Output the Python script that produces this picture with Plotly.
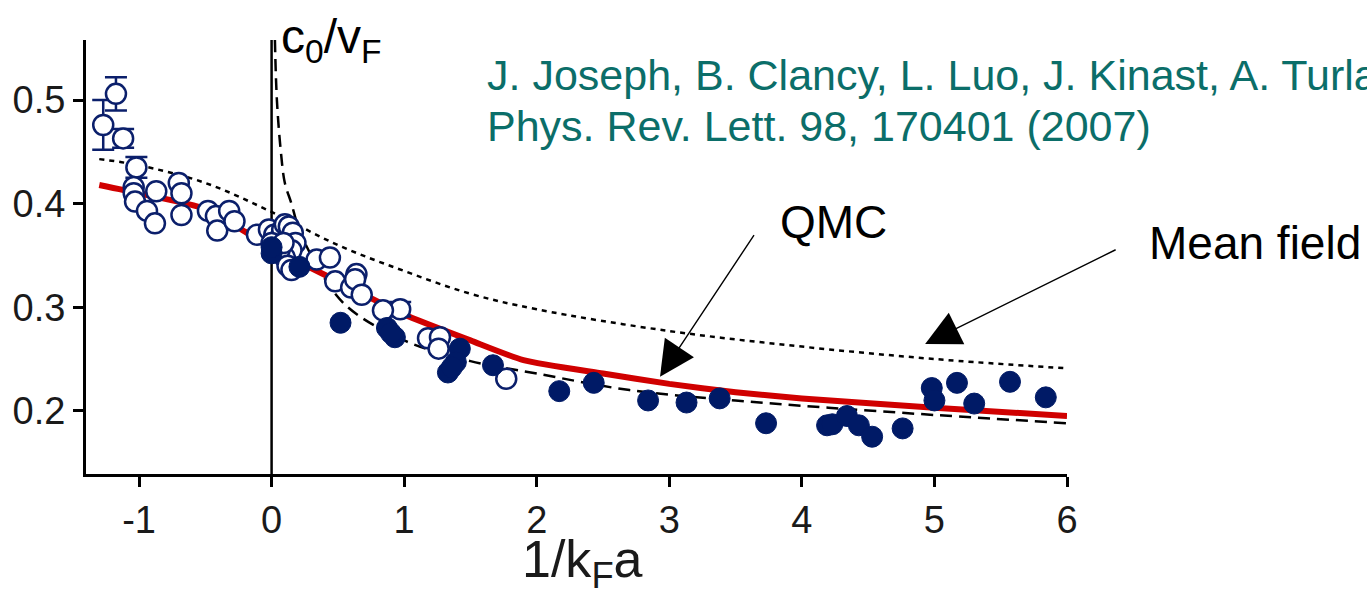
import plotly.graph_objects as go

# ---------------- data ----------------
qmc_x = [-1.3, -1.0, -0.5, -0.2, 0.0, 0.5, 1.0, 1.5, 1.9, 2.5, 3.0, 3.5, 4.0, 5.0, 6.0]
qmc_y = [0.418, 0.410, 0.395, 0.373, 0.357, 0.325, 0.293, 0.268, 0.249, 0.236, 0.226, 0.218, 0.212, 0.203, 0.195]

mf_x = [-1.3, -1.0, -0.5, 0.0, 0.5, 1.0, 1.5, 2.0, 3.0, 4.0, 5.0, 6.0]
mf_y = [0.443, 0.437, 0.420, 0.392, 0.360, 0.335, 0.313, 0.298, 0.277, 0.262, 0.250, 0.241]

bec_x = [0.025, 0.04, 0.07, 0.10, 0.15, 0.20, 0.30, 0.55, 1.0, 1.5, 2.0, 2.7, 3.5, 4.2, 5.0, 6.0]
bec_y = [0.558, 0.50, 0.45, 0.42, 0.40, 0.378, 0.350, 0.303, 0.268, 0.248, 0.236, 0.220, 0.210, 0.203, 0.196, 0.188]

open_x = [-1.04, -1.04, -1.03, -0.87, -0.94, -0.88, -0.70, -0.68, -0.68, -0.48, -0.42, -0.41,
          -0.32, -0.28, -0.11, -0.02, 0.02, 0.05, 0.08, 0.10, 0.13, 0.16, 0.18, 0.15, 0.10,
          0.06, 0.03, 0.12, 0.15, 0.00, 0.09, 0.34, 0.44, 0.48, 0.60, 0.64, 0.63, 0.68, 0.84,
          1.18, 1.27, 1.26, 1.77]
open_y = [0.416, 0.410, 0.402, 0.412, 0.393, 0.381, 0.420, 0.410, 0.389, 0.393, 0.388, 0.374,
          0.393, 0.383, 0.370, 0.375, 0.370, 0.365, 0.375, 0.380, 0.378, 0.372, 0.362, 0.355, 0.348,
          0.355, 0.360, 0.340, 0.336, 0.362, 0.362, 0.346, 0.348, 0.325, 0.319, 0.332, 0.327, 0.312, 0.297,
          0.270, 0.271, 0.260, 0.231]

err_x = [-1.174, -1.27, -1.12, -1.02, 0.97]
err_y = [0.506, 0.476, 0.463, 0.435, 0.298]
err_e = [0.016, 0.024, 0.009, 0.010, 0.007]

filled_x = [0.00, 0.00, 0.21, 0.52, 0.87, 0.93, 0.90, 1.42, 1.39, 1.33, 1.36, 1.67, 2.17, 2.43, 2.84,
            3.13, 3.38, 3.73, 4.19, 4.23, 4.34, 4.43, 4.53, 4.76, 4.98, 5.00, 5.17, 5.30, 5.57, 5.84]
filled_y = [0.352, 0.358, 0.339, 0.285, 0.280, 0.271, 0.275, 0.260, 0.247, 0.237, 0.242, 0.244, 0.219, 0.227, 0.210,
            0.208, 0.212, 0.188, 0.186, 0.187, 0.195, 0.186, 0.175, 0.183, 0.222, 0.210, 0.227, 0.207, 0.228, 0.213]

x_ticks = [-1, 0, 1, 2, 3, 4, 5, 6]
y_ticks = [0.2, 0.3, 0.4, 0.5]

NAVY = "#0b1f6b"
TEAL = "#0b6e69"
FONT = "Liberation Sans, Arial, sans-serif"

fig = go.Figure()

# vertical line at unitarity
fig.add_shape(type="line", xref="x", yref="paper", x0=0, x1=0, y0=0, y1=1.0,
              line=dict(color="black", width=2.5), layer="below")

fig.add_trace(go.Scatter(x=mf_x, y=mf_y, mode="lines", line=dict(color="black", width=2.5, dash="5px,5px", shape="spline"),
                         showlegend=False, hoverinfo="skip"))
fig.add_trace(go.Scatter(x=bec_x, y=bec_y, mode="lines", line=dict(color="black", width=2.5, dash="12px,7px", shape="spline"),
                         showlegend=False, hoverinfo="skip"))
fig.add_trace(go.Scatter(x=qmc_x, y=qmc_y, mode="lines", line=dict(color="#d00000", width=6, shape="spline", smoothing=0.6),
                         showlegend=False, hoverinfo="skip"))

fig.add_trace(go.Scatter(x=err_x, y=err_y, mode="markers",
                         error_y=dict(type="data", array=err_e, color=NAVY, thickness=2.5, width=11),
                         marker=dict(size=20, color="white", line=dict(color=NAVY, width=2.5)),
                         showlegend=False))
fig.add_trace(go.Scatter(x=open_x, y=open_y, mode="markers",
                         marker=dict(size=20, color="white", line=dict(color=NAVY, width=2.5)),
                         showlegend=False))
fig.add_trace(go.Scatter(x=filled_x, y=filled_y, mode="markers",
                         marker=dict(size=21, color="#001a66", line=dict(color="#001a66", width=1)),
                         showlegend=False))

ann = []
ann.append(dict(xref="paper", yref="paper", x=0.1968, y=1.0, xanchor="left", yanchor="middle",
                text="c<sub>0</sub>/v<sub>F</sub>", showarrow=False, font=dict(size=48, color="black", family=FONT)))
ann.append(dict(xref="paper", yref="paper", x=0.4068, y=0.919, xanchor="left", yanchor="middle",
                text="J. Joseph, B. Clancy, L. Luo, J. Kinast, A. Turlapov", showarrow=False,
                font=dict(size=43, color=TEAL, family=FONT)))
ann.append(dict(xref="paper", yref="paper", x=0.4068, y=0.802, xanchor="left", yanchor="middle",
                text="Phys. Rev. Lett. 98, 170401 (2007)", showarrow=False,
                font=dict(size=43, color=TEAL, family=FONT)))
ann.append(dict(xref="paper", yref="paper", x=0.7615, y=0.5806, xanchor="center", yanchor="middle",
                text="QMC", showarrow=False, font=dict(size=46, color="black", family=FONT)))
ann.append(dict(xref="paper", yref="paper", x=1.1917, y=0.532, xanchor="center", yanchor="middle",
                text="Mean field", showarrow=False, font=dict(size=46, color="black", family=FONT)))
# x-axis title
ann.append(dict(xref="paper", yref="paper", x=0.5066, y=-0.286, xanchor="center", yanchor="bottom",
                text="1/k<sub>F</sub>a", showarrow=False, font=dict(size=52, color="#1a1a1a", family=FONT)))
# arrows
ann.append(dict(xref="x", yref="y", x=2.93, y=0.233, ax=95, ay=-143, text="", showarrow=True,
                arrowhead=2, arrowsize=5, arrowwidth=1.4, arrowcolor="black"))
ann.append(dict(xref="x", yref="y", x=4.93, y=0.2645, ax=192, ay=-95, text="", showarrow=True,
                arrowhead=2, arrowsize=5, arrowwidth=1.4, arrowcolor="black"))

fig.update_layout(
    width=1367, height=597,
    margin=dict(l=86, r=300, t=40, b=123),
    paper_bgcolor="white", plot_bgcolor="white",
    font=dict(family=FONT, color="#1a1a1a"),
    annotations=ann,
    xaxis=dict(range=[-1.4, 6.0], tickvals=x_ticks, ticktext=[str(v) for v in x_ticks],
               showgrid=False, zeroline=False, showline=True, linecolor="black", linewidth=3,
               ticks="outside", ticklen=10, tickwidth=3, tickcolor="black",
               tickfont=dict(size=38, family=FONT, color="#1a1a1a")),
    yaxis=dict(range=[0.139, 0.558], tickvals=y_ticks, ticktext=[f"{v:.1f}" for v in y_ticks],
               showgrid=False, zeroline=False, showline=True, linecolor="black", linewidth=3,
               ticks="outside", ticklen=10, tickwidth=3, tickcolor="black",
               tickfont=dict(size=38, family=FONT, color="#1a1a1a")),
)

fig.write_html("out.html")
